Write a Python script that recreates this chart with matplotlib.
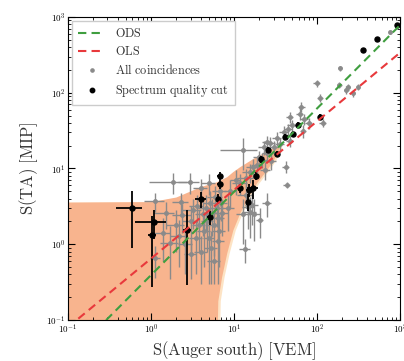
import numpy as np
import matplotlib
matplotlib.use("Agg")
import matplotlib.pyplot as plt
from matplotlib.ticker import FuncFormatter, LogLocator
from matplotlib.lines import Line2D

plt.rcParams['mathtext.fontset'] = 'cm'
plt.rcParams['font.family'] = ['DejaVu Serif']

# --- fit lines: y = A * x**B ---
ods_A, ods_B = 0.39, 1.10
ols_A, ols_B = 0.645, 0.906

# --- uncertainty band (upper / lower) ---
band_x = [0.05, 0.1, 1.0, 2.0, 4.0, 6.0, 6.24, 6.4, 7.1, 8.2, 9.7, 11.8, 14.7, 18.8, 24.8, 30.0, 35.0]
band_up = [3.6, 3.6, 3.65, 4.2, 5.8, 6.6, 6.7, 6.8, 7.2, 7.8, 9.1, 10.6, 12.3, 14.5, 17.0, 19.0, 19.5]
band_lo = [0.05, 0.05, 0.05, 0.05, 0.05, 0.05, 0.05, 0.18, 0.37, 0.77, 1.54, 2.6, 4.2, 6.5, 9.6, 13.0, 18.5]

# --- all coincidences (gray) ---
gx = [1.12, 1.12, 1.4, 1.5, 1.84, 2.95, 2.0, 2.2, 2.4, 2.6, 3.0, 3.2, 3.5, 3.6, 3.8, 4.2, 4.4, 4.6,
      4.8, 5.0, 5.2, 5.5, 5.7, 6.0, 6.2, 6.4, 6.6, 6.8, 7.0, 7.2, 4.0, 5.3, 6.5, 3.0, 4.0, 5.0, 2.3,
      1.7, 12.8, 13.6, 14.9, 15.5, 16.5, 17.5, 14.0, 20.6, 13.0, 12.0, 14.0, 15.5, 17.0, 19.0, 20.0,
      22.0, 23.0, 25.0, 27.0, 24.0, 28.0, 30.0, 33.0, 36.0, 24.8, 40.0, 45.0, 47.0, 50.0, 62.0, 65.0,
      68.0, 43.0, 42.0, 70.0, 80.0, 99.0, 117.0, 109.0, 186.0, 189.0, 227.0, 238.0, 273.0, 310.0,
      760.0, 24.8, 47.0, 9.0, 10.5, 8.5, 5.8]
gy = [3.7, 0.66, 1.4, 2.6, 6.6, 6.6, 1.8, 1.3, 2.4, 1.0, 2.0, 2.8, 1.2, 3.2, 1.8, 2.5, 1.5, 3.0,
      2.0, 1.2, 3.5, 2.6, 1.8, 4.2, 3.0, 2.2, 1.5, 5.0, 3.5, 2.6, 0.8, 0.9, 1.1, 0.75, 5.5, 6.5, 3.6,
      1.05, 17.5, 0.87, 3.1, 2.7, 3.3, 2.5, 4.5, 2.1, 2.5, 6.5, 7.5, 9.0, 10.5, 11.0, 14.0,
      13.0, 19.0, 16.0, 22.0, 9.5, 12.5, 19.0, 25.0, 21.0, 3.5, 30.0, 33.0, 23.0, 37.0, 53.0, 65.0,
      31.0, 6.1, 10.6, 45.0, 40.0, 133.0, 40.0, 85.0, 126.0, 209.0, 109.0, 120.0, 98.0, 120.0,
      640.0, 22.6, 48.0, 5.0, 7.0, 3.0, 0.6]
gxe = [0.3, 0.15, 0.3, 0.4, 0.9, 0.8, 0.5, 0.5, 0.6, 0.5, 0.6, 0.8, 0.6, 0.7, 0.7, 0.8, 0.8, 0.9,
       0.8, 0.8, 1.0, 1.0, 1.0, 1.2, 1.1, 1.2, 1.2, 1.3, 1.3, 1.4, 0.7, 0.9, 1.1, 0.5, 0.8, 1.0, 0.5,
       0.4, 6.0, 2.0, 2.5, 3.0, 3.0, 3.0, 3.0, 2.0, 2.5, 2.5, 3.0, 3.0, 3.0, 3.0, 3.0,
       3.0, 3.5, 3.5, 4.0, 3.5, 4.0, 4.0, 4.0, 4.5, 3.0, 5.0, 5.0, 5.0, 6.0, 6.0, 6.0,
       6.0, 4.0, 4.0, 7.0, 8.0, 10.0, 12.0, 10.0, 12.0, 12.0, 15.0, 15.0, 15.0, 15.0,
       25.0, 3.0, 5.0, 1.5, 1.5, 1.5, 1.0]
gye = [1.0, 0.3, 0.8, 1.0, 2.0, 2.0, 1.0, 0.8, 1.0, 0.6, 1.2, 1.2, 0.8, 1.3, 1.0, 1.2, 1.0, 1.5,
       1.2, 0.9, 1.5, 1.3, 1.1, 1.6, 1.3, 1.2, 1.0, 1.8, 1.5, 1.3, 0.5, 0.6, 0.8, 0.4, 1.8, 2.0, 1.2,
       0.7, 8.0, 0.3, 1.5, 1.5, 1.5, 1.4, 1.5, 0.9, 1.5, 2.0, 2.2, 2.5, 3.0, 3.0, 3.0,
       3.0, 4.0, 3.5, 4.0, 2.5, 3.0, 4.0, 5.0, 4.5, 1.2, 6.0, 6.0, 4.0, 7.0, 9.0, 10.0,
       6.0, 0.5, 2.0, 8.0, 7.0, 15.0, 5.0, 10.0, 12.0, 15.0, 12.0, 12.0, 10.0, 12.0,
       40.0, 4.0, 8.0, 2.0, 2.5, 1.5, 0.3]

# --- spectrum quality cut (black) ---
bx = [0.585, 1.09, 1.04, 2.73, 4.0, 5.2, 6.5, 6.8, 6.8, 11.8, 14.9, 15.3, 17.0, 18.7, 21.1, 25.9,
      32.6, 41.0, 51.8, 58.5, 108.6, 355.0, 525.0, 912.0]
by = [2.98, 1.99, 1.32, 1.54, 3.95, 2.27, 3.95, 6.2, 8.0, 5.5, 3.65, 5.2, 5.5, 8.0, 13.2, 17.5,
      15.5, 26.3, 28.6, 37.5, 48.3, 366.0, 513.0, 783.0]
bxe = [0.2, 0.44, 0.12, 0.3, 0.6, 0.4, 0.4, 0.5, 0.5, 1.0, 0.8, 1.5, 2.5, 1.0, 1.2, 1.2,
       1.5, 2.0, 2.0, 2.5, 4.0, 10.0, 15.0, 25.0]
bye = [2.1, 0.8, 1.05, 1.25, 0.9, 0.5, 0.6, 0.8, 1.0, 0.8, 0.9, 1.0, 1.5, 1.0, 1.5, 1.5,
       1.5, 2.0, 2.0, 3.0, 4.0, 15.0, 20.0, 30.0]

fig = plt.figure(figsize=(4.04, 3.61), dpi=100)
ax = fig.add_axes([0.168, 0.1136, 0.822, 0.8394])
ax.set_xscale('log')
ax.set_yscale('log')

bxa = np.array(band_x)
ax.fill_between(bxa * 1.07, band_lo, band_up, color='#fde3c4', lw=0, zorder=1)
ax.fill_between(bxa, band_lo, band_up, color='#f8b48e', lw=0, zorder=1.1)

ax.errorbar(gx, gy, xerr=gxe, yerr=gye, fmt='o', color='#8a8a8a', ms=2.5, elinewidth=1.0,
            capsize=0, zorder=2)
ax.errorbar(bx, by, xerr=bxe, yerr=bye, fmt='o', color='black', ms=3.6, elinewidth=1.3,
            capsize=0, zorder=3)

xl = np.logspace(-1, 3, 200)
l_ods, = ax.plot(xl, ods_A * xl ** ods_B, color='#3f9e3f', lw=1.5, ls=(0, (4, 2.5)), zorder=4)
l_ols, = ax.plot(xl, ols_A * xl ** ols_B, color='#e8393c', lw=1.5, ls=(0, (4, 2.5)), zorder=4)

ax.set_xlim(0.1, 1000)
ax.set_ylim(0.1, 1000)

fmt = FuncFormatter(lambda v, p: r'$10^{%d}$' % int(round(np.log10(v))))
ax.xaxis.set_major_formatter(fmt)
ax.yaxis.set_major_formatter(fmt)
ax.xaxis.set_major_locator(LogLocator(base=10, numticks=10))
ax.yaxis.set_major_locator(LogLocator(base=10, numticks=10))
ax.tick_params(which='both', direction='in', top=True, right=True, labelsize=6.5, pad=2)
ax.tick_params(which='major', length=5, width=0.8)
ax.tick_params(which='minor', length=2.5, width=0.6)

ax.set_xlabel(r'$\mathrm{S(Auger\ south)\ [VEM]}$', fontsize=12, labelpad=2, color='#333333')
ax.set_ylabel(r'$\mathrm{S(TA)\ [MIP]}$', fontsize=12, labelpad=4, color='#333333')

h_all = Line2D([], [], ls='none', marker='o', ms=2.3, color='#8a8a8a')
h_cut = Line2D([], [], ls='none', marker='o', ms=3.2, color='black')
labels_tex = [r'$\mathrm{ODS}$', r'$\mathrm{OLS}$', r'$\mathrm{All\ coincidences}$',
              r'$\mathrm{Spectrum\ quality\ cut}$']
leg = ax.legend([l_ods, l_ols, h_all, h_cut], labels_tex, loc='upper left', fontsize=8.8,
                frameon=True, fancybox=False, edgecolor='#cccccc', framealpha=1,
                handlelength=2.2, borderpad=0.5, labelspacing=0.4, borderaxespad=0.35)
for t in leg.get_texts():
    t.set_color('#333333')

fig.savefig('out.png', dpi=100)
